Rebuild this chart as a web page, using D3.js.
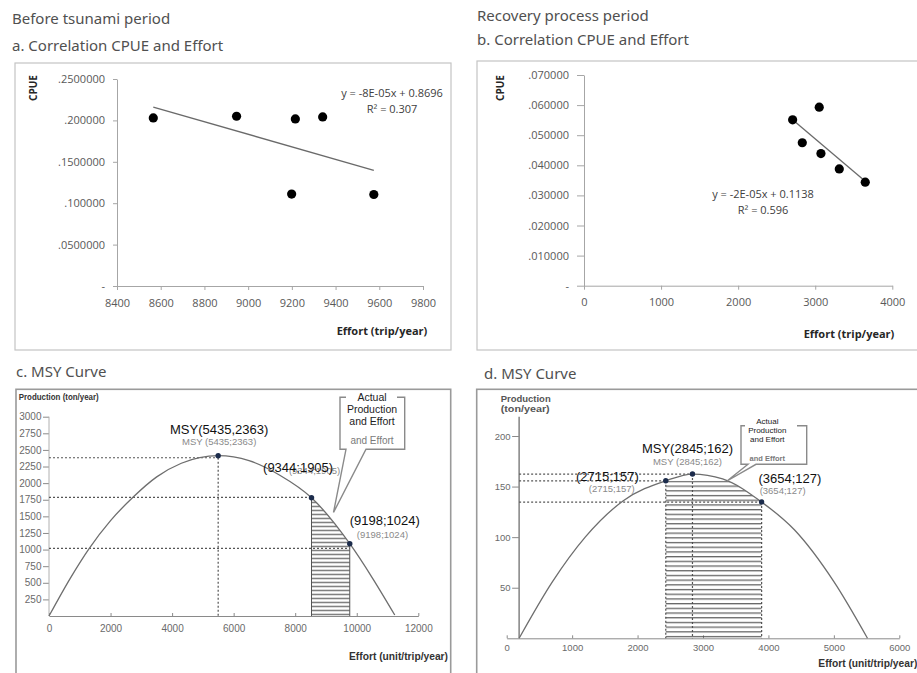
<!DOCTYPE html>
<html>
<head>
<meta charset="utf-8">
<script src="https://cdn.jsdelivr.net/npm/d3@7"></script>
<style>
  body { margin: 0; background: #fff; }
  svg { display: block; }
</style>
</head>
<body>
<script>
// a. before tsunami - CPUE vs effort
var effortA = [8566, 8947, 9199, 9216, 9341, 9575];
var cpueA = [0.203, 0.205, 0.111, 0.2018, 0.2042, 0.1105];
var xTicksA = [8400, 8600, 8800, 9000, 9200, 9400, 9600, 9800];
var yTicksA = [0, 0.05, 0.10, 0.15, 0.20, 0.25];
var yLabelsA = ["-", ".0500000", ".100000", ".1500000", ".200000", ".2500000"];
var trendTextA = ["y = -8E-05x + 0.8696", "R\u00b2 = 0.307"];

// b. recovery process - CPUE vs effort
var effortB = [2707, 3052, 2832, 3074, 3312, 3649];
var cpueB = [0.0551, 0.0593, 0.0475, 0.0439, 0.0388, 0.0344];
var xTicksB = [0, 1000, 2000, 3000, 4000];
var yTicksB = [0, 0.01, 0.02, 0.03, 0.04, 0.05, 0.06, 0.07];
var yLabelsB = ["-", ".010000", ".020000", ".030000", ".040000", ".050000", ".060000", ".070000"];
var trendTextB = ["y = -2E-05x + 0.1138", "R\u00b2 = 0.596"];

// c. MSY curve before tsunami
var curveEffortC = [0, 700, 1309, 2000, 2737, 3500, 4300, 5497, 6500, 7500, 8530, 9773, 10500, 11235];
var curveProdC = [0, 575, 1019, 1436, 1791, 2094, 2299, 2413, 2339, 2119, 1780, 1088, 579, 15];
var pointEffortC = [5497, 8530, 9773];
var pointProdC = [2413, 1780, 1088];
var guideProdC = [2382, 1785, 1019];
var labelsC = ["MSY(5435,2363)", "(9344;1905)", "(9198;1024)"];
var subLabelsC = ["MSY (5435;2363)", "(9344;1905)", "(9198;1024)"];
var xTicksC = [0, 2000, 4000, 6000, 8000, 10000, 12000];
var yTicksC = [250, 500, 750, 1000, 1250, 1500, 1750, 2000, 2250, 2500, 2750, 3000];

// d. MSY curve recovery period
var curveEffortD = [190, 700, 1200, 1782, 2431, 2839, 3300, 3896, 4400, 5000, 5514];
var curveProdD = [0, 56, 100, 136, 155.7, 162.4, 157.6, 134.7, 107, 56, 0];
var pointEffortD = [2431, 2839, 3896];
var pointProdD = [155.7, 162.4, 134.7];
var labelsD = ["(2715;157)", "MSY(2845;162)", "(3654;127)"];
var subLabelsD = ["(2715;157)", "MSY (2845;162)", "(3654;127)"];
var xTicksD = [0, 1000, 2000, 3000, 4000, 5000, 6000];
var yTicksD = [50, 100, 150, 200];

var calloutLines = ["Actual", "Production", "and Effort"];
var calloutNote = "and Effort";

var W = 917, H = 673;
var svg = d3.select("body").append("svg").attr("width", W).attr("height", H);
svg.append("rect").attr("width", W).attr("height", H).attr("fill", "#fff");
var defs = svg.append("defs");

var titleFont = "'Noto Sans', 'DejaVu Sans', sans-serif";
var xlFont = "'Open Sans', 'Noto Sans', sans-serif";
var arial = "'Liberation Sans', Arial, sans-serif";
var plain = d3.format("d");

function title(x, y, t) {
  svg.append("text").attr("x", x).attr("y", y).attr("dominant-baseline", "central")
    .attr("font-family", titleFont).attr("font-size", 15).attr("fill", "#505050").text(t);
}
title(12, 18, "Before tsunami period");
title(12, 45, "a. Correlation CPUE and Effort");
title(477, 15, "Recovery process period");
title(477, 39, "b. Correlation CPUE and Effort");
title(16, 371, "c. MSY Curve");
title(484, 373, "d. MSY Curve");

// least squares line through the scatter
function linReg(xs, ys) {
  var mx = d3.mean(xs), my = d3.mean(ys);
  var sxy = d3.sum(xs, (v, i) => (v - mx) * (ys[i] - my));
  var sxx = d3.sum(xs, v => (v - mx) * (v - mx));
  var b = sxy / sxx;
  return { b: b, a: my - b * mx };
}

function scatterPanel(p) {
  var g = svg.append("g");
  g.append("rect").attr("x", p.box[0]).attr("y", p.box[1])
    .attr("width", p.box[2]).attr("height", p.box[3])
    .attr("fill", "none").attr("stroke", "#c4c4c4").attr("stroke-width", 1.2);

  var x = d3.scaleLinear().domain(d3.extent(p.xTicks)).range(p.xRange);
  var y = d3.scaleLinear().domain(d3.extent(p.yTicks)).range(p.yRange);

  var yAx = g.append("g").attr("transform", "translate(" + p.xRange[0] + ",0)")
    .call(d3.axisLeft(y).tickValues(p.yTicks).tickFormat((d, i) => p.yLabels[i])
      .tickSize(p.yTickSize).tickSizeOuter(0).tickPadding(8));
  var xAx = g.append("g").attr("transform", "translate(0," + p.yRange[0] + ")")
    .call(d3.axisBottom(x).tickValues(p.xTicks).tickFormat(plain)
      .tickSize(4).tickSizeOuter(0).tickPadding(9));
  [xAx, yAx].forEach(a => {
    a.selectAll("path, line").attr("stroke", "#a6a6a6");
    a.selectAll("text").attr("font-family", xlFont).attr("font-size", 11).attr("fill", "#595959");
  });

  var r = linReg(p.xs, p.ys);
  var ext = d3.extent(p.xs);
  g.append("line")
    .attr("x1", x(ext[0])).attr("y1", y(r.a + r.b * ext[0]))
    .attr("x2", x(ext[1])).attr("y2", y(r.a + r.b * ext[1]))
    .attr("stroke", "#6a6a6a").attr("stroke-width", 1.3);

  g.selectAll("circle.pt").data(p.xs).enter().append("circle")
    .attr("cx", d => x(d)).attr("cy", (d, i) => y(p.ys[i])).attr("r", 4.6).attr("fill", "#000");

  g.selectAll("text.eq").data(p.eq).enter().append("text")
    .attr("x", p.eqPos[0]).attr("y", (d, i) => p.eqPos[1] + i * 16.3)
    .attr("text-anchor", "middle").attr("dominant-baseline", "central")
    .attr("font-family", xlFont).attr("font-size", 11).attr("fill", "#404040").text(d => d);

  g.append("text").attr("transform", "translate(" + p.cpuePos[0] + "," + p.cpuePos[1] + ") rotate(-90)")
    .attr("text-anchor", "middle").attr("dominant-baseline", "central")
    .attr("font-family", xlFont).attr("font-weight", "bold").attr("font-size", 10)
    .attr("fill", "#262626").text("CPUE");
  g.append("text").attr("x", p.effPos[0]).attr("y", p.effPos[1])
    .attr("text-anchor", "middle").attr("dominant-baseline", "central")
    .attr("font-family", xlFont).attr("font-weight", "bold").attr("font-size", 11)
    .attr("fill", "#262626").text("Effort (trip/year)");
}

scatterPanel({
  box: [15, 63, 436, 287], xTicks: xTicksA, yTicks: yTicksA, yLabels: yLabelsA,
  xRange: [117, 423], yRange: [286, 79], yTickSize: 4,
  xs: effortA, ys: cpueA, eq: trendTextA, eqPos: [392, 92],
  cpuePos: [33, 88], effPos: [382, 330]
});
scatterPanel({
  box: [477, 61, 460, 289], xTicks: xTicksB, yTicks: yTicksB, yLabels: yLabelsB,
  xRange: [584, 892.3], yRange: [285.7, 75], yTickSize: 7,
  xs: effortB, ys: cpueB, eq: trendTextB, eqPos: [763, 193],
  cpuePos: [500, 88], effPos: [849, 333]
});

function dotted(g, x1, y1, x2, y2) {
  g.append("line").attr("x1", x1).attr("y1", y1).attr("x2", x2).attr("y2", y2)
    .attr("stroke", "#555").attr("stroke-width", 1.2).attr("stroke-dasharray", "2,2");
}

function msyPanel(p) {
  var g = svg.append("g");
  g.append("rect").attr("x", p.box[0]).attr("y", p.box[1])
    .attr("width", p.box[2]).attr("height", p.box[3])
    .attr("fill", "none").attr("stroke", "#9a9a9a").attr("stroke-width", 1.6);

  var x = d3.scaleLinear().domain(d3.extent(p.xTicks)).range(p.xRange);
  var y = d3.scaleLinear().domain(p.yDomain).range(p.yRange);
  var pts = p.curveE.map((e, i) => [e, p.curveY[i]]);
  var axisX = p.axisAtCurve ? x(p.curveE[0]) : x(0);

  // axes
  var xAx = g.append("g").attr("transform", "translate(0," + y(0) + ")")
    .call(d3.axisBottom(x).tickValues(p.xTicks).tickFormat(plain)
      .tickSize(-3).tickSizeOuter(0).tickPadding(p.xPad));
  var yAx = g.append("g").attr("transform", "translate(" + axisX + ",0)")
    .call(d3.axisLeft(y).tickValues(p.yTicks).tickFormat(plain)
      .tickSize(p.yTickLen).tickSizeOuter(0).tickPadding(1.5));
  yAx.select(".domain").remove();
  g.append("line").attr("x1", axisX).attr("x2", axisX).attr("y1", y(0)).attr("y2", p.yAxisTop)
    .attr("stroke", p.yAxisColor).attr("stroke-width", p.yAxisWidth);
  [xAx, yAx].forEach(a => {
    a.selectAll("path, line").attr("stroke", "#8a8a8a");
    a.selectAll("text").attr("font-family", arial).attr("font-size", p.tickFont).attr("fill", "#6a6a6a");
  });

  // dotted guides
  p.pointE.forEach((e, i) => {
    dotted(g, axisX, y(p.guideY[i]), x(e), y(p.guideY[i]));
    if (p.vGuides.indexOf(i) >= 0) dotted(g, x(e), y(p.guideY[i]), x(e), y(0));
  });

  // hatched actual production area, clipped under the curve
  var area = d3.area().x(d => x(d[0])).y0(y(0)).y1(d => y(d[1])).curve(d3.curveMonotoneX);
  defs.append("clipPath").attr("id", p.id + "Clip").append("path").attr("d", area(pts));
  var top = y(p.hatch[2]);
  var pat = defs.append("pattern").attr("id", p.id + "Hatch").attr("patternUnits", "userSpaceOnUse")
    .attr("x", 0).attr("y", top).attr("width", 10).attr("height", p.hatchStep);
  pat.append("line").attr("x1", 0).attr("x2", 10).attr("y1", 0.7).attr("y2", 0.7)
    .attr("stroke", "#4a4a4a").attr("stroke-width", 1.1);
  g.append("rect").attr("clip-path", "url(#" + p.id + "Clip)")
    .attr("x", x(p.hatch[0])).attr("y", top)
    .attr("width", x(p.hatch[1]) - x(p.hatch[0])).attr("height", y(0) - top)
    .attr("fill", "url(#" + p.id + "Hatch)");
  if (p.solidEdges) {
    g.append("line").attr("x1", x(p.hatch[0])).attr("x2", x(p.hatch[0])).attr("y1", top).attr("y2", y(0))
      .attr("stroke", "#555").attr("stroke-width", 1);
    var rE = p.pointE[2], rY = p.pointY[2];
    g.append("line").attr("x1", x(rE)).attr("x2", x(rE)).attr("y1", y(rY)).attr("y2", y(0))
      .attr("stroke", "#555").attr("stroke-width", 1);
  }

  // MSY curve
  g.append("path").attr("d", d3.line().x(d => x(d[0])).y(d => y(d[1])).curve(d3.curveMonotoneX)(pts))
    .attr("fill", "none").attr("stroke", "#6e6e6e").attr("stroke-width", 1.3);

  g.selectAll("circle.pt").data(p.pointE).enter().append("circle")
    .attr("cx", d => x(d)).attr("cy", (d, i) => y(p.pointY[i])).attr("r", 2.7).attr("fill", "#1c2c4c");

  // labels: grey small first, black on top
  p.pointE.forEach((e, i) => {
    var px = x(e), py = y(p.pointY[i]);
    g.append("text").attr("x", px + p.subOff[i][0]).attr("y", py + p.subOff[i][1])
      .attr("text-anchor", "middle").attr("dominant-baseline", "central")
      .attr("font-family", arial).attr("font-size", p.subFont).attr("fill", "#8a8a8a").text(p.subLabels[i]);
  });
  p.pointE.forEach((e, i) => {
    var px = x(e), py = y(p.pointY[i]);
    g.append("text").attr("x", px + p.labOff[i][0]).attr("y", py + p.labOff[i][1])
      .attr("text-anchor", "middle").attr("dominant-baseline", "central")
      .attr("font-family", arial).attr("font-size", 13).attr("fill", "#111").text(p.labels[i]);
  });

  // callout
  g.append("path").attr("d", p.callout.path).attr("fill", "#fff")
    .attr("stroke", "#8a8a8a").attr("stroke-width", 1.4).attr("stroke-linejoin", "miter");
  calloutLines.forEach((t, i) => {
    g.append("text").attr("x", p.callout.cx).attr("y", p.callout.ys[i])
      .attr("text-anchor", "middle").attr("dominant-baseline", "central")
      .attr("font-family", arial).attr("font-size", p.callout.font).attr("fill", "#222").text(t);
  });
  g.append("text").attr("x", p.callout.cx).attr("y", p.callout.ys[3])
    .attr("text-anchor", "middle").attr("dominant-baseline", "central")
    .attr("font-family", arial).attr("font-size", p.callout.font - 0.5)
    .attr("font-weight", p.callout.noteBold ? "bold" : "normal")
    .attr("fill", "#7a7a7a").text(calloutNote);

  // axis titles
  p.prodLines.forEach((t, i) => {
    g.append("text").attr("x", p.prodPos[0]).attr("y", p.prodPos[1] + i * 10)
      .attr("dominant-baseline", "central").attr("font-family", arial).attr("font-weight", "bold")
      .attr("font-size", 9).attr("fill", p.prodColor)
      .attr("textLength", p.prodLen[i]).attr("lengthAdjust", "spacingAndGlyphs").text(t);
  });
  g.append("text").attr("x", p.effPos[0]).attr("y", p.effPos[1])
    .attr("dominant-baseline", "central").attr("font-family", arial).attr("font-weight", "bold")
    .attr("font-size", 10).attr("fill", "#333")
    .attr("textLength", 99).attr("lengthAdjust", "spacingAndGlyphs").text("Effort (unit/trip/year)");
}

msyPanel({
  id: "c", box: [16, 389.3, 434.7, 300],
  xTicks: xTicksC, xRange: [49, 418.3], yDomain: [0, 3000], yRange: [616, 416.7],
  yTicks: yTicksC, yTickLen: 6, yAxisTop: 416.7, yAxisColor: "#b0b0b0", yAxisWidth: 1,
  tickFont: 10, xPad: 9, axisAtCurve: false,
  curveE: curveEffortC, curveY: curveProdC,
  pointE: pointEffortC, pointY: pointProdC, guideY: guideProdC, vGuides: [0],
  hatch: [pointEffortC[1], pointEffortC[2], pointProdC[1]], hatchStep: 4, solidEdges: true,
  labels: labelsC, subLabels: subLabelsC, subFont: 9.5,
  labOff: [[1, -26.5], [-13.4, -30.4], [35, -23.5]],
  subOff: [[1, -13.8], [3, -27.7], [32.7, -9.2]],
  callout: {
    path: "M346,397.3 H340 V449.3 H346 L333.5,512.5 L366,449.3 H404.7 V397.3 H397",
    cx: 372, ys: [397.3, 409.3, 421.3, 440.7], font: 10.5, noteBold: false
  },
  prodLines: ["Production (ton/year)"], prodPos: [18.7, 396.7], prodLen: [80], prodColor: "#333",
  effPos: [349, 656]
});

msyPanel({
  id: "d", box: [476.7, 389.3, 460, 300],
  xTicks: xTicksD, xRange: [506.7, 899.3], yDomain: [0, 200], yRange: [638.3, 436],
  yTicks: yTicksD, yTickLen: 7, yAxisTop: 416.7, yAxisColor: "#8a8a8a", yAxisWidth: 1.6,
  tickFont: 9.5, xPad: 6, axisAtCurve: true,
  curveE: curveEffortD, curveY: curveProdD,
  pointE: pointEffortD, pointY: pointProdD, guideY: pointProdD, vGuides: [0, 1, 2],
  hatch: [pointEffortD[0], pointEffortD[2], pointProdD[0]], hatchStep: 4.7, solidEdges: false,
  labels: labelsD, subLabels: subLabelsD, subFont: 9.5,
  labOff: [[-58.4, -4.5], [-5, -25.5], [28.3, -23.5]],
  subOff: [[-54, 8], [-5, -12.5], [21, -12]],
  callout: {
    path: "M745,425.7 H741 V464.3 H748 L727,481 L756,464.3 H806.7 V425.7 H797",
    cx: 767.3, ys: [421, 430.3, 439.3, 458.7], font: 8, noteBold: true
  },
  prodLines: ["Production", "(ton/year)"], prodPos: [500.7, 398.7], prodLen: [50, 49], prodColor: "#555",
  effPos: [818.3, 663.3]
});
</script>
</body>
</html>
